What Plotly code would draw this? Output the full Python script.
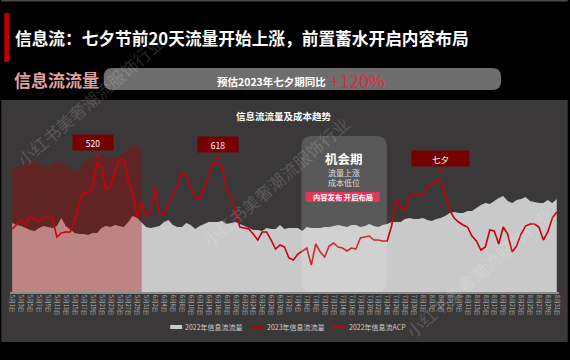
import pandas as pd
import plotly.graph_objects as go

# ---------------- data ----------------
dates = [f"{d.month}月{d.day}日" for d in pd.date_range("2022-05-01", "2022-08-31")]
tick_labels = dates[::2]

flow_2022 = [69, 67, 66, 64, 62, 61, 64, 66, 65, 64,
             66, 74, 66, 62, 59, 58, 58, 57, 59, 59,
             64, 66, 65, 67, 66, 65, 70, 76, 74, 70,
             65, 64, 65, 66, 70, 72, 67, 65, 65, 69,
             67, 63, 66, 68, 70, 70, 70, 71, 68, 69,
             70, 68, 66, 64, 62, 62, 61, 64, 63, 63,
             67, 63, 64, 64, 64, 61, 65, 64, 64, 64,
             65, 65, 66, 67, 66, 65, 67, 67, 65, 66,
             68, 66, 65, 67, 68, 70, 70, 70, 73, 74,
             73, 73, 74, 72, 71, 73, 74, 76, 79, 80,
             79, 79, 81, 81, 84, 87, 89, 88, 91, 94,
             96, 91, 89, 92, 93, 95, 91, 90, 89, 89,
             92, 89, 93]

flow_2023 = [124, 125, 127, 128, 130, 131, 129, 127, 125, 129,
             130, 129, 127, 124, 120, 122, 129, 133, 134, 136,
             137, 135, 134, 135, 135, 139, 143, 147, 146, 142]
flow_2023 = flow_2023 + [None] * (len(dates) - len(flow_2023))

acp_2022 = [63, 68, 72, 67, 75, 73, 71, 74, 75, 74,
            55, 59, 60, 60, 72, 89, 100, 99, 105, 130,
            124, 102, 106, 120, 133, 132, 112, 97, 75, 89,
            75, 80, 104, 77, 77, 89, 97, 106, 120, 116,
            104, 94, 93, 104, 117, 130, 128, 126, 102, 97,
            80, 65, 64, 63, 58, 52, 60, 60, 52, 43,
            47, 45, 34, 32, 38, 41, 44, 27, 48, 40,
            35, 46, 49, 45, 44, 41, 44, 43, 54, 55,
            56, 52, 52, 51, 51, 66, 93, 85, 82, 96,
            98, 98, 96, 105, 108, 111, 113, 96, 82, 74,
            70, 67, 65, 56, 51, 42, 45, 62, 61, 48,
            65, 58, 40, 46, 58, 66, 68, 68, 65, 52,
            60, 74, 80]

event_names = ["520", "618", "七夕"]
event_marker_dates = ["5月20日", "6月16日", "8月5日"]
event_marker_values = [136, 134, 122]
event_box_dates = ["5月19日", "6月16日", "8月5日"]
event_box_values = [150, 148, 134]
event_box_widths = [38, 38, 55]

series_names = ["2022年信息流流量", "2023年信息流流量", "2022年信息流ACP"]

# ---------------- geometry helpers ----------------
W, H = 570, 360
L, R, T, B = 8.75, 8.75, 102, 68
PW, PH = W - L - R, H - T - B


def X(px):
    return (px - L) / PW


def Y(py):
    return (H - B - py) / PH


def rr_path(x0, y0, x1, y1, r):
    pts = [("M", x0 + r, y0), ("L", x1 - r, y0), ("Q", x1, y0, x1, y0 + r),
           ("L", x1, y1 - r), ("Q", x1, y1, x1 - r, y1), ("L", x0 + r, y1),
           ("Q", x0, y1, x0, y1 - r), ("L", x0, y0 + r), ("Q", x0, y0, x0 + r, y0)]
    s = ""
    for p in pts:
        cmd = p[0]
        coords = p[1:]
        parts = []
        for k in range(0, len(coords), 2):
            parts.append(f"{X(coords[k]):.5f},{Y(coords[k + 1]):.5f}")
        s += cmd + " " + " ".join(parts) + " "
    return s + "Z"


FONT = "Noto Sans CJK SC"
PANEL = "#3a3838"
RED = "#c8000a"

fig = go.Figure()

fig.add_trace(go.Scatter(
    x=dates, y=flow_2022, name=series_names[0], mode="lines",
    line=dict(width=0, color="#c9c9c9"), fill="tozeroy", fillcolor="#c9c9c9",
    showlegend=False, hoverinfo="skip"))
fig.add_trace(go.Scatter(
    x=dates, y=flow_2023, name=series_names[1], mode="lines",
    line=dict(width=0, color="rgba(170,0,0,0.35)"), fill="tozeroy",
    fillcolor="rgba(170,0,0,0.35)", showlegend=False, hoverinfo="skip"))
fig.add_trace(go.Scatter(
    x=dates, y=acp_2022, name=series_names[2], mode="lines",
    line=dict(width=1.6, color=RED), showlegend=False, hoverinfo="skip"))
fig.add_trace(go.Scatter(
    x=event_marker_dates, y=event_marker_values, mode="markers",
    marker=dict(symbol="triangle-down", size=5, color=RED),
    showlegend=False, hoverinfo="skip"))

shapes = []
# dark panel
shapes.append(dict(type="rect", xref="paper", yref="paper", x0=X(0), x1=X(570),
                   y0=Y(342), y1=Y(100), fillcolor=PANEL, line=dict(width=0), layer="below"))
# top thin line
shapes.append(dict(type="line", xref="paper", yref="paper", x0=X(0), x1=X(570),
                   y0=Y(0.7), y1=Y(0.7), line=dict(color="#4a4a4a", width=1.5)))
# red title bar
shapes.append(dict(type="rect", xref="paper", yref="paper", x0=X(3), x1=X(8),
                   y0=Y(62), y1=Y(13), fillcolor="#c00000", line=dict(width=0)))
# subtitle pill
shapes.append(dict(type="path", xref="paper", yref="paper", path=rr_path(103, 68, 503, 90, 9),
                   fillcolor="#6e6e6e", line=dict(width=0)))
# opportunity box
shapes.append(dict(type="path", xref="paper", yref="paper", path=rr_path(302, 136, 388, 292, 11),
                   fillcolor="rgba(255,255,255,0.16)", line=dict(width=0), layer="above"))
shapes.append(dict(type="path", xref="paper", yref="paper", path=rr_path(306, 192, 381, 202, 2),
                   fillcolor="#dc3a58", line=dict(width=0), layer="above"))
# custom legend swatches
shapes.append(dict(type="rect", xref="paper", yref="paper", x0=X(170), x1=X(182),
                   y0=Y(329), y1=Y(325), fillcolor="#c9c9c9", line=dict(width=0)))
shapes.append(dict(type="rect", xref="paper", yref="paper", x0=X(252), x1=X(264),
                   y0=Y(329), y1=Y(325), fillcolor="#8a1212", line=dict(width=0)))
shapes.append(dict(type="line", xref="paper", yref="paper", x0=X(333), x1=X(347),
                   y0=Y(327), y1=Y(327), line=dict(color=RED, width=2)))

ann = []


def A(text, px, py, size, color="#ffffff", xanchor="center", **kw):
    d = dict(text=text, xref="paper", yref="paper", x=X(px), y=Y(py), showarrow=False,
             xanchor=xanchor, yanchor="middle", font=dict(family=FONT, size=size, color=color))
    d.update(kw)
    ann.append(d)


# header
A("<b>信息流：七夕节前20天流量开始上涨，前置蓄水开启内容布局</b>", 12, 38, 16.7, xanchor="left")
A("<b>信息流流量</b>", 11, 79, 17, color="#e2a1a1", xanchor="left")
A("<b>预估2023年七夕期同比</b>", 329, 82, 10.5, xanchor="right")
A("+120%", 329, 80, 17.5, color="#e62840", xanchor="left")
# chart title
A("<b>信息流流量及成本趋势</b>", 284.5, 116, 9.5)
# opportunity box texts
A("<b>机会期</b>", 345, 158.5, 12.5)
A("流量上涨<br>成本低位", 345, 177.5, 8, color="#dedede")
A("<b>内容发布 开启布局</b>", 343.5, 197, 7.3)
# legend texts
A(series_names[0], 183, 327, 7, color="#d0d0d0", xanchor="left")
A(series_names[1], 265, 327, 7, color="#d0d0d0", xanchor="left")
A(series_names[2], 348, 327, 7, color="#d0d0d0", xanchor="left")

# event label boxes (anchored to data)
for name, d, v, w in zip(event_names, event_box_dates, event_box_values, event_box_widths):
    ann.append(dict(text=name, x=d, y=v, xref="x", yref="y", showarrow=False,
                    bgcolor="#760000", width=w, height=13, align="center",
                    font=dict(family=FONT, size=8.5, color="#ffffff")))

# watermarks
for cx, cy in [(89, 100), (276, 181), (480, 272)]:
    A("小红书美奢潮流服饰行业", cx, cy, 17, color="rgba(255,255,255,0.17)", textangle=-41)

fig.update_layout(
    width=W, height=H, autosize=False,
    margin=dict(l=L, r=R, t=T, b=B, pad=0),
    paper_bgcolor="#000000", plot_bgcolor=PANEL,
    shapes=shapes, annotations=ann, showlegend=False,
    xaxis=dict(type="category", categoryorder="array", categoryarray=dates,
               range=[-0.5, len(dates) - 0.5], tickmode="array", tickvals=tick_labels,
               ticktext=tick_labels, tickangle=90,
               tickfont=dict(family=FONT, size=5.5, color="#bdbdbd"),
               showgrid=False, zeroline=False, showline=True, linecolor="#8c8c8c",
               linewidth=2, ticks="", fixedrange=True),
    yaxis=dict(range=[0, 190], visible=False, showgrid=False, zeroline=False, fixedrange=True),
)

fig.write_html("out.html")
